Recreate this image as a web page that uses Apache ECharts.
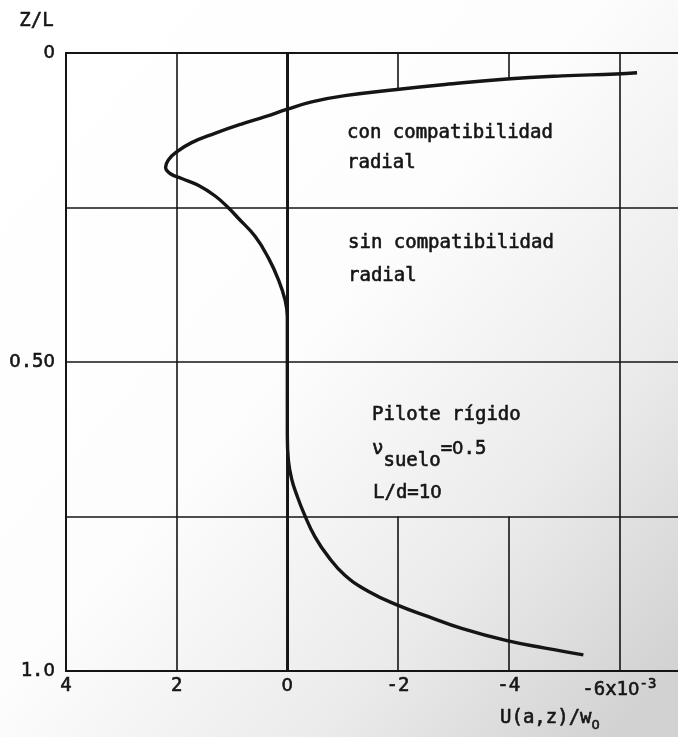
<!DOCTYPE html>
<html>
<head>
<meta charset="utf-8">
<script src="https://cdn.jsdelivr.net/npm/echarts@6/dist/echarts.min.js"></script>
<style>
html,body{margin:0;padding:0;background:#fff;}
#chart{width:678px;height:737px;}
</style>
</head>
<body>
<div id="chart"></div>
<script>
// ---- data ----
// "con compatibilidad radial" curve: U(a,z)/w0 (x10^-3) and Z/L
const conU = [-6.32, -5.94, -4.96, -3.97, -2.85, -1.98, -1.04, -0.44, 0, 0.40, 0.83, 1.31, 1.73, 2.0, 2.15, 2.20, 2.12, 1.91, 1.61, 1.31, 1.07, 0.89, 0.58, 0.34, 0.16, 0.04, 0, 0, -0.02, -0.08, -0.17, -0.30, -0.50, -0.74, -1.04, -1.46, -1.98, -2.55, -3.15, -3.97, -4.66, -5.35];
const conZ = [0.032, 0.034, 0.037, 0.042, 0.051, 0.059, 0.069, 0.079, 0.091, 0.103, 0.115, 0.130, 0.145, 0.160, 0.173, 0.185, 0.195, 0.203, 0.214, 0.231, 0.250, 0.267, 0.297, 0.332, 0.367, 0.400, 0.427, 0.62, 0.66, 0.69, 0.715, 0.745, 0.783, 0.815, 0.845, 0.871, 0.893, 0.912, 0.931, 0.951, 0.963, 0.974];
// "sin compatibilidad radial": U = 0 along the whole pile
const sinU = [0, 0];
const sinZ = [0, 1.0];
// axis ticks / labels
const xLabelValues = [4, 2, 0, -2, -4, -6];
const xLabelTexts = ['4', '2', '0', '-2', '-4', '-6x10'];
const xExponent = '-3';
const yLabelValues = [0, 0.5, 1.0];
const yLabelTexts = ['0', '0.50', '1.0'];
// vertical grid segments: [U, Zfrom, Zto]
const vGridU = [2, -6, -2, -2, -4, -4];
const vGridFrom = [0, 0, 0, 0.75, 0, 0.75];
const vGridTo = [1, 1, 0.059, 1, 0.042, 1];

const FONT = '"DejaVu Sans Mono", "Liberation Mono", monospace';
const ZFONT = '"DejaVu Sans", sans-serif'; // plain (undotted) zero
const INK = '#151515';
const TSTROKE = 0.6;

const chart = echarts.init(document.getElementById('chart'), null, {renderer: 'canvas'});

const conData = conU.map((u, i) => [u, conZ[i]]);
const sinData = sinU.map((u, i) => [u, sinZ[i]]);
const vGridLines = vGridU.map((u, i) => [{coord: [u, vGridFrom[i]]}, {coord: [u, vGridTo[i]]}]);

// wrap plain text into rich tokens, giving zeros an undotted glyph
function zr(s, main) {
  return s.split(/(0)/).filter(p => p.length).map(p => p === '0' ? '{z|0}' : '{' + main + '|' + p + '}').join('');
}
const labelRich = {
  n: {fontFamily: FONT, fontSize: 19, color: INK, textBorderColor: INK, textBorderWidth: TSTROKE},
  z: {fontFamily: ZFONT, fontSize: 18, color: INK, textBorderColor: INK, textBorderWidth: TSTROKE},
  sup: {fontFamily: FONT, fontSize: 14, color: INK, textBorderColor: INK, textBorderWidth: TSTROKE, padding: [0, 0, 12, 0]}
};
const gRich = {
  m: {fontFamily: FONT, fontSize: 19, fill: INK, stroke: INK, lineWidth: TSTROKE},
  z: {fontFamily: ZFONT, fontSize: 18, fill: INK, stroke: INK, lineWidth: TSTROKE},
  s: {fontFamily: FONT, fontSize: 19, fill: INK, stroke: INK, lineWidth: TSTROKE, padding: [24, 0, 0, 0]},
  sz: {fontFamily: ZFONT, fontSize: 13, fill: INK, stroke: INK, lineWidth: TSTROKE, padding: [16, 0, 0, 0]}
};

function txt(x, y, s) {
  return {type: 'text', x: x, y: y, style: {text: zr(s, 'm'), rich: gRich, textVerticalAlign: 'middle'}};
}

const option = {
  animation: false,
  backgroundColor: new echarts.graphic.LinearGradient(0, 0.1, 1, 0.9, [
    {offset: 0, color: '#ffffff'},
    {offset: 0.45, color: '#fdfdfd'},
    {offset: 0.75, color: '#ebebeb'},
    {offset: 1, color: '#d2d2d2'}
  ]),
  grid: {
    left: 66, top: 53, right: -52, bottom: 66,
    outerBoundsMode: 'none',
    containLabel: false,
    show: true, borderColor: INK, borderWidth: 2, backgroundColor: 'transparent'
  },
  xAxis: {
    type: 'value', min: -8, max: 4, interval: 2, inverse: true,
    axisLine: {show: true, lineStyle: {color: INK, width: 2}},
    axisTick: {show: false},
    splitLine: {show: false},
    axisLabel: {
      margin: 6,
      fontFamily: FONT, fontSize: 19, color: INK,
      textBorderColor: INK, textBorderWidth: TSTROKE,
      formatter: function (v) {
        const i = xLabelValues.indexOf(v);
        if (i < 0) return '';
        let s = zr(xLabelTexts[i], 'n');
        if (v === -6) s += '{sup|' + xExponent + '}';
        return s;
      },
      rich: labelRich
    }
  },
  yAxis: {
    type: 'value', min: 0, max: 1, interval: 0.25, inverse: true,
    axisLine: {show: true, lineStyle: {color: INK, width: 2}},
    axisTick: {show: false},
    splitLine: {show: true, lineStyle: {color: INK, width: 1.6}},
    axisLabel: {
      margin: 11,
      fontFamily: FONT, fontSize: 19, color: INK,
      textBorderColor: INK, textBorderWidth: TSTROKE,
      formatter: function (v) {
        const i = yLabelValues.findIndex(t => Math.abs(t - v) < 1e-9);
        return i < 0 ? '' : zr(yLabelTexts[i], 'n');
      },
      rich: labelRich
    }
  },
  series: [
    {
      name: 'sin compatibilidad radial',
      type: 'line',
      data: sinData,
      symbol: 'none',
      lineStyle: {color: INK, width: 2.6},
      z: 3,
      markLine: {
        silent: true,
        symbol: ['none', 'none'],
        label: {show: false},
        lineStyle: {color: INK, width: 1.6, type: 'solid'},
        data: vGridLines
      }
    },
    {
      name: 'con compatibilidad radial',
      type: 'line',
      data: conData,
      symbol: 'none',
      smooth: 0.45,
      lineStyle: {color: INK, width: 3.4},
      z: 4
    }
  ],
  graphic: [
    {type: 'text', left: 19, top: 11, style: {text: 'Z/L', font: '19px ' + FONT, fill: INK, stroke: INK, lineWidth: TSTROKE}},
    {type: 'text', x: 500, y: 718, style: {
      text: '{m|U(a,z)/w}{sz|0}', textVerticalAlign: 'middle', rich: gRich
    }},
    txt(347, 133, 'con compatibilidad'),
    txt(347, 163, 'radial'),
    txt(348, 243, 'sin compatibilidad'),
    txt(348, 276, 'radial'),
    txt(372, 415, 'Pilote rígido'),
    {type: 'text', x: 372, y: 449, style: {
      text: '{m|ν}{s|suelo}' + zr('=0.5', 'm'), textVerticalAlign: 'middle', rich: gRich
    }},
    txt(373, 493, 'L/d=10')
  ]
};

chart.setOption(option);
</script>
</body>
</html>
